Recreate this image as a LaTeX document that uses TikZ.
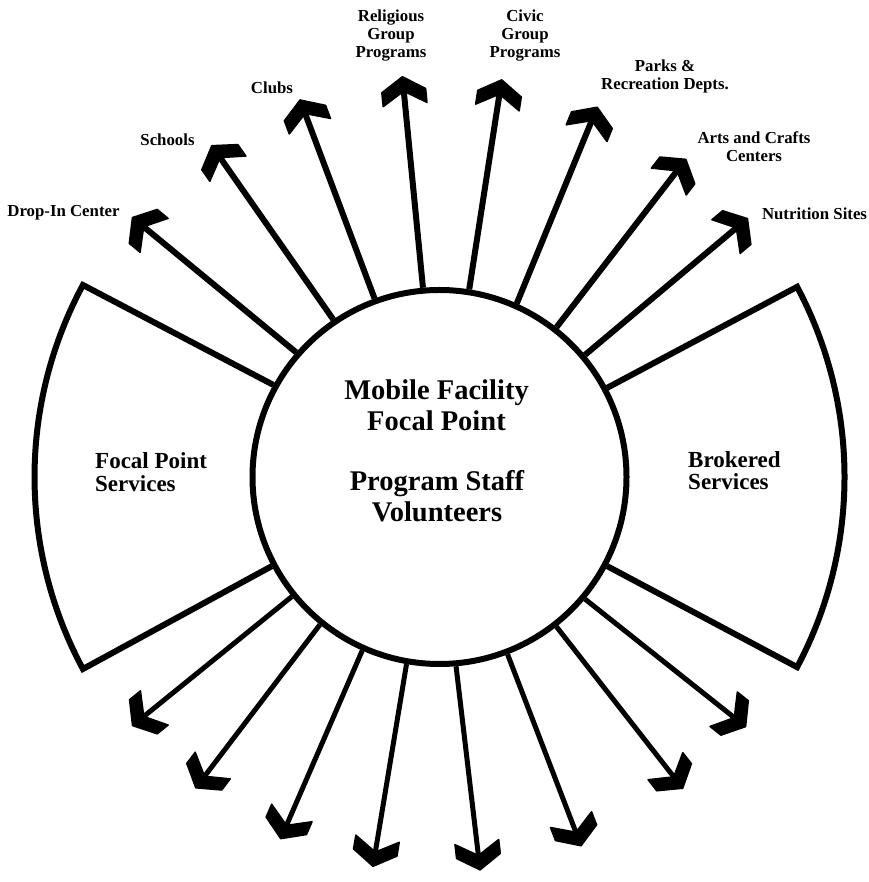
\documentclass[tikz,border=0pt]{standalone}
\usepackage{fontspec}
\setmainfont{Liberation Serif}
\usetikzlibrary{calc}

% Heavy chevron head used on every spoke
\pgfdeclarearrow{
  name = Chevron,
  setup code = {
    \pgfarrowssettipend{0pt}
    \pgfarrowssetlineend{-13pt}
    \pgfarrowssetbackend{-28pt}
    \pgfarrowshullpoint{0pt}{0pt}
    \pgfarrowshullpoint{-14pt}{22pt}
    \pgfarrowshullpoint{-28pt}{22pt}
    \pgfarrowshullpoint{-28pt}{-22pt}
    \pgfarrowshullpoint{-14pt}{-22pt}
  },
  drawing code = {
    \pgfsetlinewidth{1.5pt}
    \pgfsetroundjoin
    \pgfpathmoveto{\pgfqpoint{0pt}{0pt}}
    \pgfpathlineto{\pgfqpoint{-14pt}{22pt}}
    \pgfpathlineto{\pgfqpoint{-28pt}{22pt}}
    \pgfpathlineto{\pgfqpoint{-14.5pt}{0pt}}
    \pgfpathlineto{\pgfqpoint{-28pt}{-22pt}}
    \pgfpathlineto{\pgfqpoint{-14pt}{-22pt}}
    \pgfpathclose
    \pgfusepathqfillstroke
  }
}

\begin{document}
\begin{tikzpicture}[x=1pt,y=1pt,
  ring/.style={draw, circle, line width=6pt, minimum size=374pt, inner sep=0pt},
  spoke/.style={line width=6pt, -Chevron},
  lowspoke/.style={line width=5pt, -Chevron},
  wedgeline/.style={line width=6pt, line join=miter},
  smalllbl/.style={font=\fontsize{16.8}{18}\selectfont\bfseries, inner sep=0pt, anchor=base},
  sectlbl/.style={font=\fontsize{23}{21.7}\selectfont\bfseries, inner sep=0pt, anchor=base west},
  hublbl/.style={font=\fontsize{28.5}{31}\selectfont\bfseries, inner sep=0pt, anchor=base}
]
\fill[white] (0,0) rectangle (868,882);
\useasboundingbox (0,0) rectangle (868,882);

\coordinate (C) at (439.5,405);
\node[ring] (hub) at (C) {};

% side sectors
\draw[wedgeline] (hub.151.7) -- ($(C)+(151.7:405)$)
  arc[start angle=151.7, end angle=208.3, radius=405] -- (hub.208.3);
\draw[wedgeline] (hub.28) -- ($(C)+(28:405)$)
  arc[start angle=28, end angle=-28, radius=405] -- (hub.332);

% upper spokes
\foreach \a [count=\i] in {139.8,124.5,110.3,95.3,81.1,66.9,52.2,40.0} {
  \coordinate (top\i) at ($(C)+(\a:402)$);
  \draw[spoke] (hub.\a) -- (top\i);
}
% lower spokes
\foreach \a [count=\i] in {219,231.9,246.3,260.3,275.9,291,308,320.8} {
  \coordinate (low\i) at ($(C)+(\a:395)$);
  \draw[lowspoke] (hub.\a) -- (low\i);
}

% labels of the upper spokes
\node[smalllbl] (dropin) at (63.5,665.3) {Drop-In Center};
\node[smalllbl] (schools) at (167.5,736) {Schools};
\node[smalllbl] (clubs) at (272,788.7) {Clubs};
\node[smalllbl] (relig) at (391,860.3) {\begin{tabular}[t]{@{}c@{}}Religious\\Group\\Programs\end{tabular}};
\node[smalllbl] (civic) at (525,860.3) {\begin{tabular}[t]{@{}c@{}}Civic\\Group\\Programs\end{tabular}};
\node[smalllbl] (parks) at (665,810.3) {\begin{tabular}[t]{@{}c@{}}Parks \&\\Recreation Depts.\end{tabular}};
\node[smalllbl] (arts) at (754,738.7) {\begin{tabular}[t]{@{}c@{}}Arts and Crafts\\Centers\end{tabular}};
\node[smalllbl] (nutrition) at (814.5,662) {Nutrition Sites};

% sector labels
\node[sectlbl] (focalsvc) at (95,413) {\begin{tabular}[t]{@{}l@{}}Focal Point\\Services\end{tabular}};
\node[sectlbl] (brokered) at (688,414.7) {\begin{tabular}[t]{@{}l@{}}Brokered\\Services\end{tabular}};

% hub text
\node[hublbl] (hubtop) at (436.5,482.7) {\begin{tabular}[t]{@{}c@{}}Mobile Facility\\Focal Point\end{tabular}};
\node[hublbl] (hubbottom) at (437,391) {\begin{tabular}[t]{@{}c@{}}Program Staff\\Volunteers\end{tabular}};
\end{tikzpicture}
\end{document}
